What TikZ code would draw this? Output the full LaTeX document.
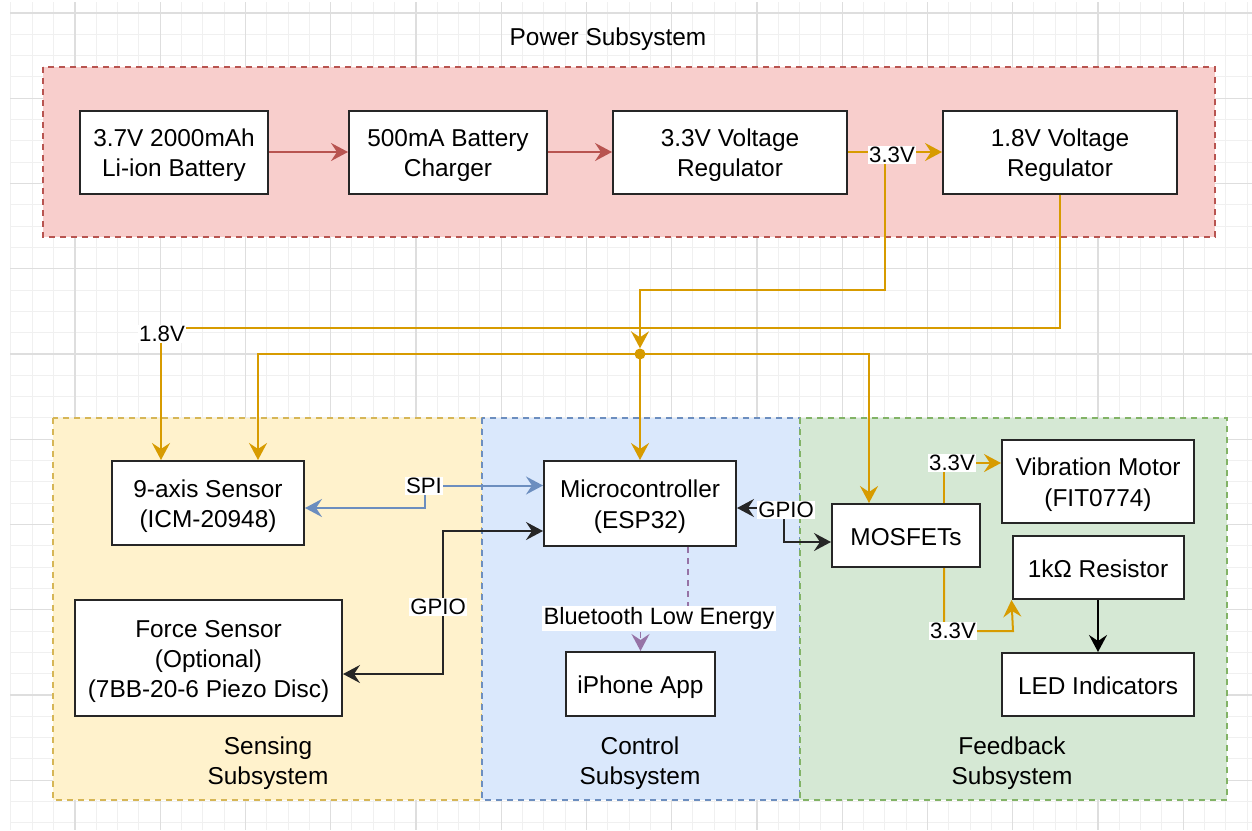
\documentclass[tikz,border=0pt]{standalone}
\usepackage{fontspec}
\setmainfont{Liberation Sans}
\usetikzlibrary{arrows.meta}

\definecolor{pwrfill}{HTML}{F8CECC}
\definecolor{pwrline}{HTML}{B85450}
\definecolor{senfill}{HTML}{FFF2CC}
\definecolor{senline}{HTML}{D6B656}
\definecolor{ctlfill}{HTML}{DAE8FC}
\definecolor{ctlline}{HTML}{6C8EBF}
\definecolor{fbfill}{HTML}{D5E8D4}
\definecolor{fbline}{HTML}{82B366}
\definecolor{supply}{HTML}{D79B00}
\definecolor{blelink}{HTML}{9673A6}
\definecolor{gridminor}{HTML}{F0F0F0}
\definecolor{gridmajor}{HTML}{DEDEDE}

\newcommand\bxfont{\fontsize{24.4}{30.3}\selectfont}
\newcommand\lbfont{\fontsize{22.2}{26}\selectfont}
% struts giving the first and last text lines a fixed ascent and descent
\newcommand\topstrut{\rule{0pt}{24.7pt}}
\newcommand\botstrut{\rule[-5.6pt]{0pt}{5.6pt}}
\newcommand\bxtext[1]{\topstrut#1\botstrut}

\tikzset{
  group/.style={draw, dash pattern=on 6pt off 5pt, line width=1.6pt},
  block/.style={draw=black!85, line width=2pt, fill=white, inner sep=0pt,
                align=center, font=\bxfont},
  grouptitle/.style={align=center, font=\bxfont, inner sep=0pt},
  tag/.style={fill=white, inner sep=1.5pt, font=\lbfont},
  arrowend/.style={-{Stealth[length=17pt,width=18pt,inset=6pt]}},
  arrowboth/.style={{Stealth[length=17pt,width=18pt,inset=6pt]}-{Stealth[length=17pt,width=18pt,inset=6pt]}},
  wire/.style={line width=2pt},
  supplyline/.style={wire, draw=supply},
}

\begin{document}
\begin{tikzpicture}[x=1pt,y=-1pt]
\useasboundingbox (0,0) rectangle (1252,830);
\fill[white] (0,0) rectangle (1252,830);

% background grid
\begin{scope}
  \clip (10,2) rectangle (1252,830);
  \foreach \i in {0,...,58} {
    \draw[gridminor, line width=1pt] ({10.95+21.3125*\i},2) -- ({10.95+21.3125*\i},830);
  }
  \foreach \i in {0,...,38} {
    \draw[gridminor, line width=1pt] (10,{13+21.3125*\i}) -- (1252,{13+21.3125*\i});
  }
  \foreach \i in {0,...,14} {
    \draw[gridmajor, line width=1.2pt] ({74.9+85.25*\i},2) -- ({74.9+85.25*\i},830);
  }
  \foreach \i in {0,...,9} {
    \draw[gridmajor, line width=1.2pt] (10,{13+85.25*\i}) -- (1252,{13+85.25*\i});
  }
\end{scope}

% subsystem groups
\path[group, fill=pwrfill, draw=pwrline] (43,67) rectangle (1215,237);
\path[group, fill=senfill, draw=senline] (53,418) rectangle (482,800);
\path[group, fill=ctlfill, draw=ctlline] (482,418) rectangle (800,800);
\path[group, fill=fbfill, draw=fbline] (800,418) rectangle (1227,800);

\node[grouptitle] (tpower) at (608,36) {\bxtext{Power Subsystem}};
\node[grouptitle] (tsense) at (268,760) {\bxtext{Sensing\\Subsystem}};
\node[grouptitle] (tctrl) at (640,760) {\bxtext{Control\\Subsystem}};
\node[grouptitle] (tfb) at (1012,760) {\bxtext{Feedback\\Subsystem}};

% power chain
\node[block, minimum width=188pt, minimum height=83pt] (bat) at (174,152) {\bxtext{3.7V 2000mAh\\Li-ion Battery}};
\node[block, minimum width=198pt, minimum height=83pt] (chg) at (448,152) {\bxtext{500mA Battery\\Charger}};
\node[block, minimum width=234pt, minimum height=83pt] (r33) at (730,152) {\bxtext{3.3V Voltage\\Regulator}};
\node[block, minimum width=234pt, minimum height=83pt] (r18) at (1060,152) {\bxtext{1.8V Voltage\\Regulator}};

% sensing
\node[block, minimum width=192pt, minimum height=84pt] (imu) at (208,503) {\bxtext{9-axis Sensor\\(ICM-20948)}};
\node[block, minimum width=267pt, minimum height=116pt] (force) at (208.5,658) {\bxtext{Force Sensor\\(Optional)\\(7BB-20-6 Piezo Disc)}};

% control
\node[block, minimum width=192pt, minimum height=85pt] (mcu) at (640,503.5) {\bxtext{Microcontroller\\(ESP32)}};
\node[block, minimum width=149pt, minimum height=64pt] (app) at (640.5,684) {\bxtext{iPhone App}};

% feedback
\node[block, minimum width=148pt, minimum height=63pt] (mos) at (906,535.5) {\bxtext{MOSFETs}};
\node[block, minimum width=192pt, minimum height=83pt] (vib) at (1098,481.5) {\bxtext{Vibration Motor\\(FIT0774)}};
\node[block, minimum width=171pt, minimum height=63pt] (res) at (1098,567.5) {\bxtext{1kΩ Resistor}};
\node[block, minimum width=192pt, minimum height=63pt] (led) at (1098,684.5) {\bxtext{LED Indicators}};

% power flow
\draw[wire, draw=pwrline, arrowend] (bat.east) -- (chg.west);
\draw[wire, draw=pwrline, arrowend] (chg.east) -- (r33.west);
\draw[supplyline, arrowend] (r33.east) -- (r18.west);

% 3.3V distribution
\coordinate (tap33) at (885,152);
\coordinate (bus33) at (760,290);
\node[circle, fill=supply, inner sep=0pt, minimum size=11pt] (jn) at (640,354) {};
\draw[supplyline, arrowend] (tap33) |- (bus33) -| (jn.north);
\draw[supplyline, arrowend] (jn.center) -- (mcu.north);
\draw[supplyline, arrowend] (jn.center) -| ([xshift=50pt]imu.north);
\draw[supplyline, arrowend] (jn.center) -| ([xshift=-37pt]mos.north);

% 1.8V rail
\coordinate (bus18) at (600,328);
\draw[supplyline, arrowend] (r18.south) |- (bus18) -| ([xshift=-47pt]imu.north);

% SPI link
\coordinate (spix) at (425,496);
\draw[wire, draw=ctlline, arrowboth] ([yshift=-5pt]imu.east) -| (spix) |- ([yshift=18pt]mcu.west);

% GPIO to force sensor
\coordinate (gpiox) at (443,600);
\draw[wire, draw=black!85, arrowboth] ([yshift=-16pt]force.east) -| (gpiox) |- ([yshift=-27.5pt]mcu.west);

% GPIO to MOSFETs
\coordinate (gpiom) at (784,525);
\draw[wire, draw=black!85, arrowboth] ([yshift=-4.5pt]mcu.east) -| (gpiom) |- ([yshift=-6.5pt]mos.west);

% BLE link
\coordinate (blebend) at (664,617);
\draw[line width=1.5pt, draw=blelink, dash pattern=on 6pt off 5pt, -{Stealth[length=17pt,width=18pt,inset=6pt]}]
  ([xshift=48pt]mcu.south) |- (blebend) -| (app.north);

% MOSFET outputs
\coordinate (lowc) at (1013,631);
\draw[supplyline, arrowend] ([xshift=38pt]mos.north) |- ([yshift=18.5pt]vib.west);
\draw[supplyline, arrowend] ([xshift=38pt]mos.south) |- (lowc) -- (res.south west);
\draw[wire, draw=black, arrowend] (res.south) -- (led.north);

% connector labels
\node[tag] (l33a) at (892,155) {3.3V};
\node[tag] (l18) at (162,334) {1.8V};
\node[tag] (lspi) at (424,486) {SPI};
\node[tag] (lgpio1) at (438,607) {GPIO};
\node[tag] (lgpio2) at (786,510) {GPIO};
\node[tag, font=\fontsize{23.6}{28}\selectfont] (lble) at (659,618) {Bluetooth Low Energy};
\node[tag] (l33b) at (952,463) {3.3V};
\node[tag] (l33c) at (953,631) {3.3V};
\end{tikzpicture}
\end{document}
